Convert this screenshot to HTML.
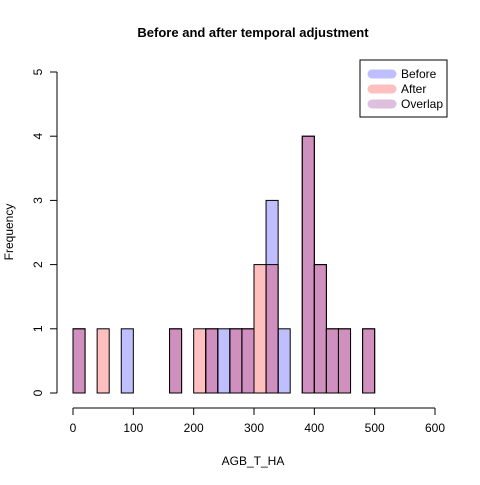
<!DOCTYPE html>
<html><head><meta charset="utf-8"><style>body{margin:0;background:#fff}svg{font-family:"Liberation Sans",Arial,sans-serif}</style></head>
<body>
<svg width="480" height="480" xmlns="http://www.w3.org/2000/svg">
<g id="plot"></g>
</svg>
<script>
const binStart = 0;
const binWidth = 20;
const beforeCounts = [1,0,0,0,1,0,0,0,1,0,0,1,1,1,1,0,3,1,0,4,2,1,1,0,1];
const afterCounts  = [1,0,1,0,0,0,0,0,1,0,1,1,0,1,1,2,2,0,0,4,2,1,1,0,1];
const xTicks = [0,100,200,300,400,500,600];
const yTicks = [0,1,2,3,4,5];
const NS='http://www.w3.org/2000/svg';
const g=document.getElementById('plot');
const X=v=>73+v*(435-73)/600;
const Y=v=>393-v*(393-72)/5;
function el(t,a,txt){const e=document.createElementNS(NS,t);for(const k in a)e.setAttribute(k,a[k]);if(txt!==undefined)e.textContent=txt;g.appendChild(e);return e;}
function bars(counts,fill,name){counts.forEach((c,i)=>{if(!c)return;const x0=X(binStart+i*binWidth),x1=X(binStart+(i+1)*binWidth);
const r=el('rect',{x:x0,y:Y(c),width:x1-x0,height:Y(0)-Y(c),fill:fill,stroke:'#000','stroke-width':1});

});}
bars(beforeCounts,'rgba(0,0,255,0.25)','before');
bars(afterCounts,'rgba(255,0,0,0.25)','after');
let t=el('text',{x:253,y:37,'text-anchor':'middle','font-size':13,'font-weight':'bold'},'Before and after temporal adjustment');

let ax=el('line',{x1:X(0),x2:X(600),y1:408,y2:408,stroke:'#000'});

xTicks.forEach(v=>{el('line',{x1:X(v),x2:X(v),y1:408,y2:415,stroke:'#000'});
const l=el('text',{x:X(v),y:432,'text-anchor':'middle','font-size':12},v);
});
let ay=el('line',{x1:57,x2:57,y1:Y(0),y2:Y(5),stroke:'#000'});

yTicks.forEach(v=>{el('line',{x1:50,x2:57,y1:Y(v),y2:Y(v),stroke:'#000'});
const l=el('text',{x:42,y:Y(v),'text-anchor':'middle','font-size':12,transform:`rotate(-90 42 ${Y(v)})`},v);
});
t=el('text',{x:253,y:465,'text-anchor':'middle','font-size':12},'AGB_T_HA');

t=el('text',{x:13,y:232,'text-anchor':'middle','font-size':12,transform:'rotate(-90 13 232)'},'Frequency');

const lg=el('rect',{x:360,y:60,width:87,height:57,fill:'#fff',stroke:'#000'});

[['Before','rgb(191,191,255)'],['After','rgb(255,191,191)'],['Overlap','rgb(223,191,223)']].forEach((d,i)=>{
const yy=74+i*15;
const s=el('line',{x1:372,x2:392,y1:yy,y2:yy,stroke:d[1],'stroke-width':9,'stroke-linecap':'round'});

const l=el('text',{x:401,y:yy+4,'font-size':12},d[0]);
});
</script>
</body></html>
